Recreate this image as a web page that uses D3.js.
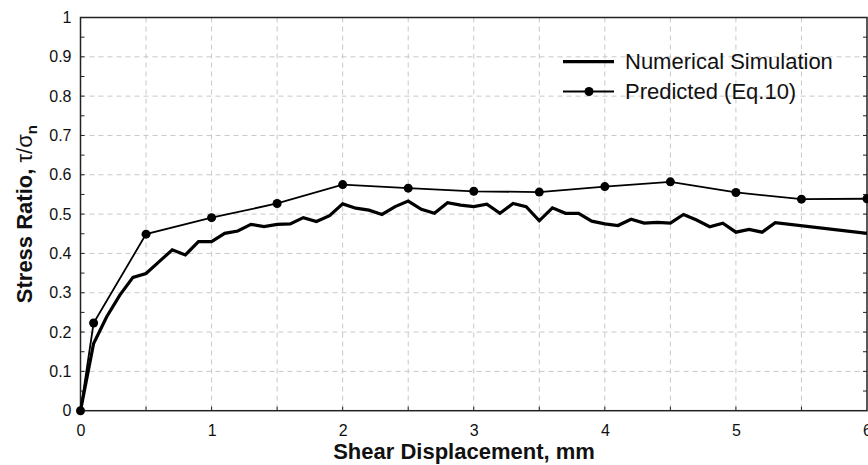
<!DOCTYPE html>
<html>
<head>
<meta charset="utf-8">
<script src="https://cdn.jsdelivr.net/npm/d3@7"></script>
<style>
  html, body { margin: 0; padding: 0; background: #fff; }
  svg { display: block; font-family: "Liberation Sans", Arial, sans-serif; }
</style>
</head>
<body>
<svg id="chart" width="868" height="465"></svg>
<script>
// ---- data ----
const simX = [0, 0.1, 0.2, 0.3, 0.4, 0.5, 0.6, 0.7, 0.8, 0.9, 1.0, 1.1, 1.2, 1.3, 1.4, 1.5, 1.6, 1.7, 1.8, 1.9,
              2.0, 2.1, 2.2, 2.3, 2.4, 2.5, 2.6, 2.7, 2.8, 2.9, 3.0, 3.1, 3.2, 3.3, 3.4, 3.5, 3.6, 3.7, 3.8, 3.9,
              4.0, 4.1, 4.2, 4.3, 4.4, 4.5, 4.6, 4.7, 4.8, 4.9, 5.0, 5.1, 5.2, 5.3, 6.0];
const simY = [0, 0.171, 0.239, 0.294, 0.339, 0.349, 0.379, 0.409, 0.396, 0.430, 0.430, 0.451, 0.457, 0.474, 0.468, 0.474, 0.475, 0.491, 0.481, 0.496,
              0.526, 0.515, 0.510, 0.499, 0.519, 0.533, 0.512, 0.502, 0.529, 0.523, 0.519, 0.525, 0.502, 0.527, 0.519, 0.483, 0.516, 0.502, 0.502, 0.482,
              0.475, 0.471, 0.487, 0.477, 0.479, 0.477, 0.499, 0.485, 0.468, 0.477, 0.454, 0.461, 0.454, 0.478, 0.451];
const predX = [0, 0.1, 0.5, 1.0, 1.5, 2.0, 2.5, 3.0, 3.5, 4.0, 4.5, 5.0, 5.5, 6.0];
const predY = [0, 0.223, 0.449, 0.491, 0.527, 0.575, 0.566, 0.558, 0.556, 0.570, 0.582, 0.555, 0.538, 0.539];
const xTicks = [0, 1, 2, 3, 4, 5, 6];
const yTicks = [0, 0.1, 0.2, 0.3, 0.4, 0.5, 0.6, 0.7, 0.8, 0.9, 1];
const seriesNames = ["Numerical Simulation", "Predicted (Eq.10)"];

// ---- layout ----
const svg = d3.select("#chart");
const L = 80.5, R = 867, T = 17.5, B = 410.7;
const x = d3.scaleLinear().domain([0, 6]).range([L, R]);
const y = d3.scaleLinear().domain([0, 1]).range([B, T]);
const font = '"Liberation Sans", Arial, sans-serif';

// grid
const gx = d3.range(0.5, 6, 0.5);
const gy = d3.range(1, 10).map(d => d / 10);
svg.append("g").selectAll("line").data(gx).join("line")
  .attr("x1", d => x(d)).attr("x2", d => x(d)).attr("y1", T).attr("y2", B)
  .attr("stroke", "#c8c8c8").attr("stroke-width", 1).attr("stroke-dasharray", "5,4");
svg.append("g").selectAll("line").data(gy).join("line")
  .attr("x1", L).attr("x2", R).attr("y1", d => y(d)).attr("y2", d => y(d))
  .attr("stroke", "#c8c8c8").attr("stroke-width", 1).attr("stroke-dasharray", "5,4");

// minor ticks on left/right axes
const minorY = d3.range(1, 20).map(d => d / 20);
svg.append("g").selectAll("line").data(minorY).join("line")
  .attr("x1", L).attr("x2", L + 4).attr("y1", d => y(d)).attr("y2", d => y(d))
  .attr("stroke", "#222").attr("stroke-width", 1);
svg.append("g").selectAll("line").data(minorY).join("line")
  .attr("x1", R - 4).attr("x2", R).attr("y1", d => y(d)).attr("y2", d => y(d))
  .attr("stroke", "#222").attr("stroke-width", 1);
svg.append("g").selectAll("line").data(gx).join("line")
  .attr("x1", d => x(d)).attr("x2", d => x(d)).attr("y1", B).attr("y2", B - 4)
  .attr("stroke", "#222").attr("stroke-width", 1);

// axes
const xAxis = d3.axisBottom(x).tickValues(xTicks).tickSize(0).tickPadding(14).tickFormat(d3.format("d"));
const yAxis = d3.axisLeft(y).tickValues(yTicks).tickSize(0).tickPadding(9).tickFormat(d => d === 0 || d === 1 ? d3.format("d")(d) : d3.format(".1f")(d));
const gxa = svg.append("g").attr("transform", `translate(0,${B})`).call(xAxis);
const gya = svg.append("g").attr("transform", `translate(${L},0)`).call(yAxis);
[gxa, gya].forEach(g => {
  g.select(".domain").remove();
  g.selectAll("text").attr("font-family", font).attr("font-size", 16).attr("fill", "#111");
});

// frame
svg.append("rect").attr("x", L).attr("y", T).attr("width", R - L).attr("height", B - T)
  .attr("fill", "none").attr("stroke", "#222").attr("stroke-width", 1.5);

// lines
const simData = simX.map((d, i) => [d, simY[i]]);
const predData = predX.map((d, i) => [d, predY[i]]);
const line = d3.line().x(d => x(d[0])).y(d => y(d[1]));
svg.append("path").datum(simData).attr("d", line)
  .attr("fill", "none").attr("stroke", "#000").attr("stroke-width", 3.2).attr("stroke-linejoin", "miter");
svg.append("path").datum(predData).attr("d", line)
  .attr("fill", "none").attr("stroke", "#000").attr("stroke-width", 1.8);
svg.append("g").selectAll("circle").data(predData).join("circle")
  .attr("cx", d => x(d[0])).attr("cy", d => y(d[1])).attr("r", 4.5).attr("fill", "#000");

// legend
const lg = svg.append("g");
lg.append("line").attr("x1", 563).attr("x2", 614).attr("y1", 61.7).attr("y2", 61.7)
  .attr("stroke", "#000").attr("stroke-width", 3.2);
lg.append("text").attr("x", 625).attr("y", 69).attr("font-family", font).attr("font-size", 22)
  .attr("fill", "#111").text(seriesNames[0]);
lg.append("line").attr("x1", 563).attr("x2", 614).attr("y1", 91.5).attr("y2", 91.5)
  .attr("stroke", "#000").attr("stroke-width", 1.8);
lg.append("circle").attr("cx", 589).attr("cy", 91.5).attr("r", 4.5).attr("fill", "#000");
lg.append("text").attr("x", 625).attr("y", 98.5).attr("font-family", font).attr("font-size", 22)
  .attr("fill", "#111").text(seriesNames[1]);

// axis titles
svg.append("text").attr("x", 464).attr("y", 459).attr("text-anchor", "middle")
  .attr("font-family", font).attr("font-size", 22).attr("font-weight", "bold").attr("fill", "#111")
  .text("Shear Displacement, mm");
const yt = svg.append("text").attr("transform", `translate(32,${(T + B) / 2}) rotate(-90)`)
  .attr("text-anchor", "middle").attr("font-family", font).attr("font-size", 22).attr("fill", "#111");
yt.append("tspan").attr("font-weight", "bold").text("Stress Ratio, ");
yt.append("tspan").text("τ/σ");
yt.append("tspan").attr("font-weight", "bold").attr("font-size", 15).attr("dy", 5).text("n");
</script>
</body>
</html>
